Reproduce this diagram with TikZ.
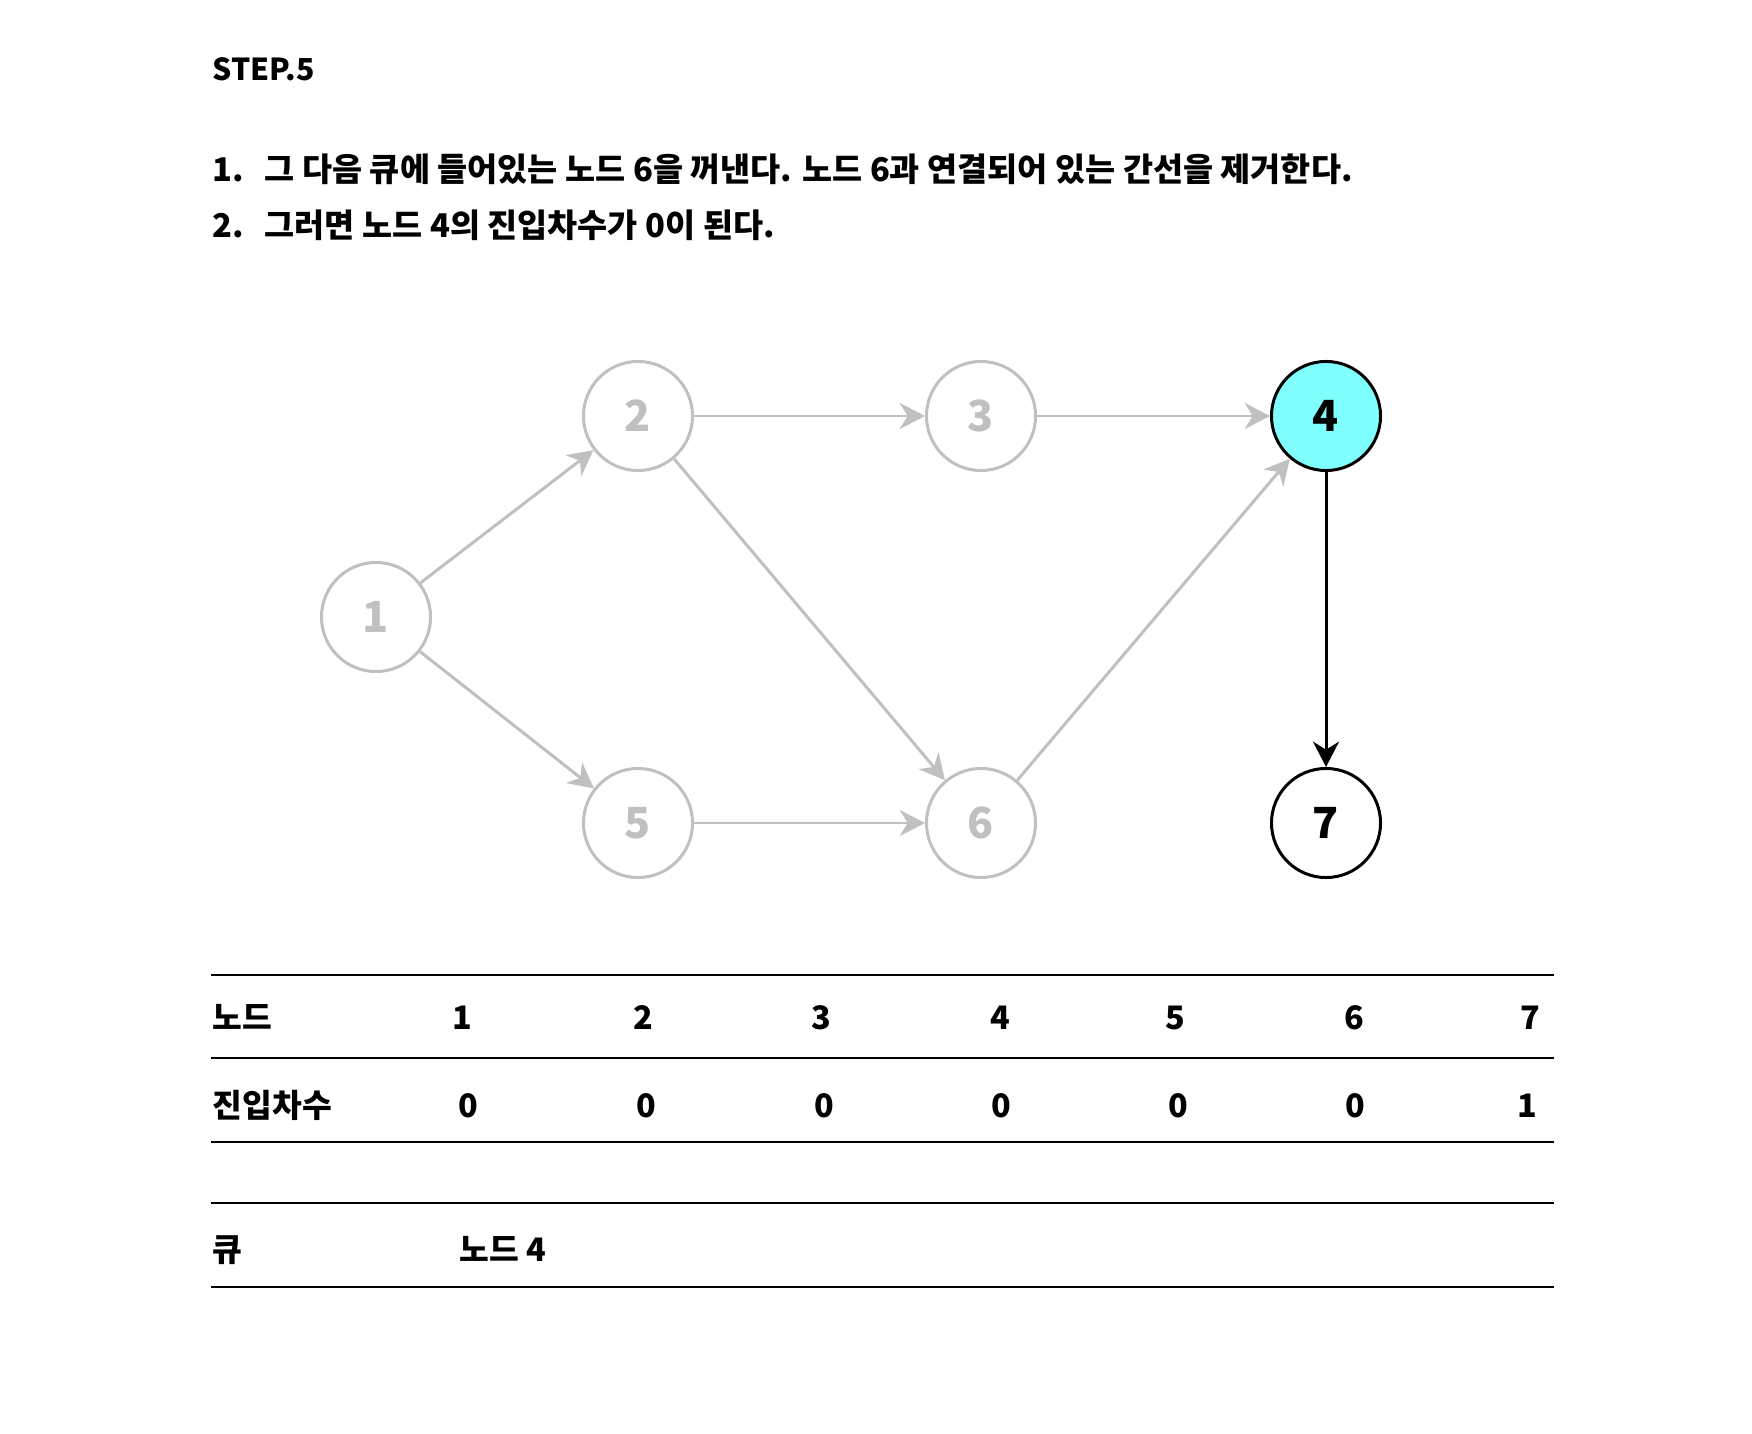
\documentclass[tikz,border=0pt]{standalone}
\usepackage{fontspec}
\setmainfont{Noto Sans CJK KR}
\usetikzlibrary{arrows.meta}
\definecolor{edgegray}{HTML}{C0C0C0}
\definecolor{hicyan}{HTML}{80FFFF}
\tikzset{
  gnode/.style={circle, draw=edgegray, line width=0.85pt, minimum size=1.09cm, inner sep=0pt, text=edgegray, font=\fontsize{12.2}{14}\selectfont\bfseries},
  bnode/.style={circle, draw=black, line width=0.85pt, minimum size=1.09cm, inner sep=0pt, text=black, font=\fontsize{12.2}{14}\selectfont\bfseries},
  gedge/.style={draw=edgegray, line width=0.85pt, -{Stealth[length=7.2pt,width=7.4pt,inset=2.3pt]}},
  bedge/.style={draw=black, line width=0.85pt, -{Stealth[length=7.2pt,width=7.4pt,inset=2.3pt]}},
  maintext/.style={anchor=base west, inner sep=0pt, font=\fontsize{9.3}{12}\selectfont\bfseries},
  steptext/.style={anchor=base west, inner sep=0pt, font=\fontsize{8.6}{10}\selectfont\bfseries},
  celltext/.style={anchor=base, inner sep=0pt, font=\fontsize{9.2}{11}\selectfont\bfseries},
  celllabel/.style={anchor=base west, inner sep=0pt, font=\fontsize{9.2}{11}\selectfont\bfseries},
  rule/.style={line width=0.7pt, draw=black}
}
\begin{document}
\begin{tikzpicture}[x=0.01cm, y=-0.01cm]
\useasboundingbox (0,0) rectangle (1752,1434);
\fill[white] (0,0) rectangle (1752,1434);

% header text
\node[steptext] (step) at (212,81) {STEP.5};
\node[maintext] (n1) at (212,182) {1.};
\node[maintext] (t1) at (264,182) {그 다음 큐에 들어있는 노드 6을 꺼낸다. 노드 6과 연결되어 있는 간선을 제거한다.};
\node[maintext] (n2) at (212,238) {2.};
\node[maintext] (t2) at (264,238) {그러면 노드 4의 진입차수가 0이 된다.};

% graph
\node[gnode] (v1) at (376,617) {1};
\node[gnode] (v2) at (638,416) {2};
\node[gnode] (v3) at (981,416) {3};
\node[bnode, fill=hicyan] (v4) at (1326,416) {4};
\node[gnode] (v5) at (638,823) {5};
\node[gnode] (v6) at (981,823) {6};
\node[bnode] (v7) at (1326,823) {7};

\draw[gedge] (v1) -- (v2);
\draw[gedge] (v1) -- (v5);
\draw[gedge] (v2) -- (v3);
\draw[gedge] (v2) -- (v6);
\draw[gedge] (v3) -- (v4);
\draw[gedge] (v5) -- (v6);
\draw[gedge] (v6) -- (v4);
\draw[bedge] (v4) -- (v7);

% table rules
\coordinate (r1a) at (211,975);  \coordinate (r1b) at (1554,975);
\coordinate (r2a) at (211,1058); \coordinate (r2b) at (1554,1058);
\coordinate (r3a) at (211,1142); \coordinate (r3b) at (1554,1142);
\coordinate (r4a) at (211,1203); \coordinate (r4b) at (1554,1203);
\coordinate (r5a) at (211,1287); \coordinate (r5b) at (1554,1287);
\draw[rule] (r1a) -- (r1b);
\draw[rule] (r2a) -- (r2b);
\draw[rule] (r3a) -- (r3b);
\draw[rule] (r4a) -- (r4b);
\draw[rule] (r5a) -- (r5b);

% row 1
\node[celllabel] (h1) at (212,1029) {노드};
\node[celltext] (c11) at (462,1029) {1};
\node[celltext] (c12) at (643,1029) {2};
\node[celltext] (c13) at (821,1029) {3};
\node[celltext] (c14) at (1000,1029) {4};
\node[celltext] (c15) at (1175,1029) {5};
\node[celltext] (c16) at (1354,1029) {6};
\node[celltext] (c17) at (1530,1029) {7};
% row 2
\node[celllabel] (h2) at (212,1117) {진입차수};
\node[celltext] (c21) at (468,1117) {0};
\node[celltext] (c22) at (646,1117) {0};
\node[celltext] (c23) at (824,1117) {0};
\node[celltext] (c24) at (1001,1117) {0};
\node[celltext] (c25) at (1178,1117) {0};
\node[celltext] (c26) at (1355,1117) {0};
\node[celltext] (c27) at (1527,1117) {1};
% row 3
\node[celllabel] (h3) at (212,1261) {큐};
\node[celllabel] (q1) at (459,1261) {노드 4};
\end{tikzpicture}
\end{document}
